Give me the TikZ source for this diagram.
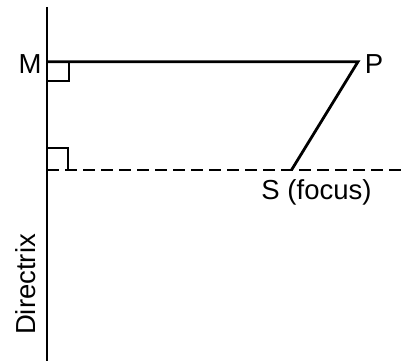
\documentclass[tikz,border=0pt]{standalone}
\usepackage{fontspec}
\setmainfont{Liberation Sans}
\begin{document}
\begin{tikzpicture}[x=1pt,y=-1pt,
  ln/.style={line width=2.8pt},
  dashln/.style={line width=2.8pt,dash pattern=on 12pt off 6pt},
  lbl/.style={inner sep=0pt,font=\fontsize{27.5}{32}\selectfont}]
\useasboundingbox (0,0) rectangle (402,363);
% points
\coordinate (top) at (47,7);
\coordinate (bot) at (47,361);
\coordinate (M) at (47,61.7);
\coordinate (P) at (358,61.7);
\coordinate (S) at (291.5,170);
\coordinate (D) at (47,170);
\coordinate (E) at (402,170);
% lines
\draw[ln] (top) -- (bot);
\draw[ln,line join=miter] (M) -- (P) -- (S);
\draw[dashln] (D) -- (E);
% right angle marks
\draw[ln] (47,81) -| (69,61.7);
\draw[ln] (47,148) -| (68,170);
% labels
\node[lbl] (Ml) at (30,64.5) {M};
\node[lbl] (Pl) at (374,64) {P};
\node[lbl,anchor=base] (Sl) at (316.5,200) {S (focus)};
\node[lbl,anchor=base,rotate=90] (Dl) at (35,284.5) {Directrix};
\end{tikzpicture}
\end{document}
